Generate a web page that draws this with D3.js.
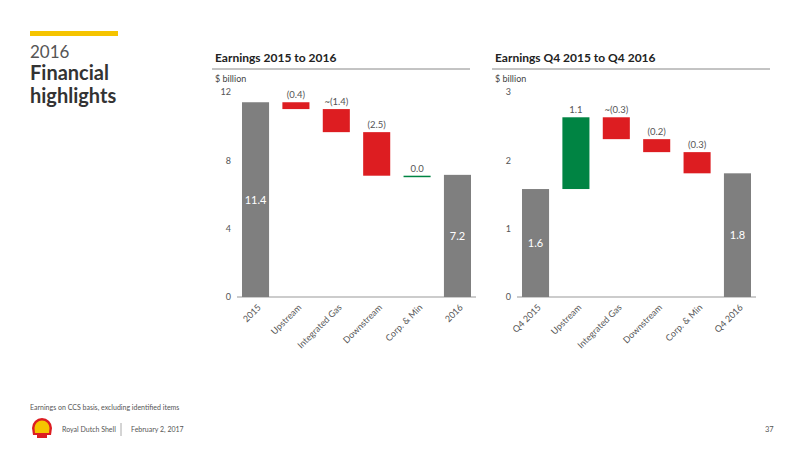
<!DOCTYPE html>
<html><head><meta charset="utf-8">
<script src="https://cdn.jsdelivr.net/npm/d3@7"></script>
<style>body{margin:0;background:#fff;font-family:Lato,"Open Sans",sans-serif}</style>
</head><body><svg id="c" width="800" height="450"></svg>
<script>
const cats1=["2015","Upstream","Integrated Gas","Downstream","Corp. & Min","2016"];
const vals1=[11.4,-0.4,-1.35,-2.55,0.0,7.15];
const labels1=["11.4","(0.4)","~(1.4)","(2.5)","0.0","7.2"];
const ticks1=[0,4,8,12];
const cats2=["Q4 2015","Upstream","Integrated Gas","Downstream","Corp. & Min","Q4 2016"];
const vals2=[1.58,1.05,-0.32,-0.19,-0.31,1.81];
const labels2=["1.6","1.1","~(0.3)","(0.2)","(0.3)","1.8"];
const ticks2=[0,1,2,3];

const svg=d3.select("#c");
svg.append("rect").attr("x",30).attr("y",31).attr("width",88).attr("height",5).attr("fill","#f5c400");
svg.append("text").attr("x",30).attr("y",58).attr("font-size",17).attr("fill","#555").text("2016");
svg.append("text").attr("x",30).attr("y",80).attr("font-size",20).attr("font-weight","bold").attr("fill","#333").text("Financial");
svg.append("text").attr("x",30).attr("y",103).attr("font-size",20).attr("font-weight","bold").attr("fill","#333").text("highlights");
svg.append("text").attr("x",30).attr("y",410).attr("font-size",7).attr("fill","#555").text("Earnings on CCS basis, excluding identified items");
svg.append("text").attr("x",62).attr("y",432).attr("font-size",7).attr("fill","#555").text("Royal Dutch Shell");
svg.append("line").attr("x1",121).attr("x2",121).attr("y1",423).attr("y2",436).attr("stroke","#aaa");
svg.append("text").attr("x",131).attr("y",432).attr("font-size",7).attr("fill","#555").text("February 2, 2017");
svg.append("text").attr("x",765).attr("y",432).attr("font-size",7.5).attr("fill","#555").text("37");
const lg=svg.append("g").attr("transform","translate(42,429)");
lg.append("path").attr("d","M-9,6 L-10,-1 A10,10 0 0 1 10,-1 L9,6 Z").attr("fill","#dd1d21");
lg.append("path").attr("d","M-7,4 L-7.5,-1 A7.5,7.5 0 0 1 7.5,-1 L7,4 Z").attr("fill","#f5c400");
lg.append("rect").attr("x",-5).attr("y",6).attr("width",10).attr("height",3).attr("fill","#dd1d21");

function chart(x0,x1,title,cats,vals,labels,ticks,ymax){
  svg.append("text").attr("x",x0+3).attr("y",62).attr("font-size",12).attr("font-weight","bold").attr("fill","#222").text(title);
  svg.append("line").attr("x1",x0).attr("x2",x1).attr("y1",69).attr("y2",69).attr("stroke","#888");
  svg.append("text").attr("x",x0+3).attr("y",82).attr("font-size",9).attr("fill","#444").text("$ billion");
  const ax=x0+30;
  const x=d3.scaleBand().domain(cats).range([ax,ax+229]).paddingInner(0.33).paddingOuter(0);
  const y=d3.scaleLinear().domain([0,ymax]).range([297,92]);
  const g=svg.append("g");
  g.append("g").attr("transform",`translate(${ax-8},0)`).call(d3.axisLeft(y).tickValues(ticks).tickSize(0).tickFormat(d3.format("d")))
    .call(a=>{a.select(".domain").remove();a.selectAll("text").attr("font-size",9).attr("fill","#555").attr("font-family","Lato");});
  g.append("line").attr("x1",ax-5).attr("x2",ax+234).attr("y1",297).attr("y2",297).attr("stroke","#999");
  let cum=0;
  vals.forEach((v,i)=>{
    let lo,hi,col,last=i===vals.length-1;
    if(i===0||last){lo=0;hi=v;col="#7f7f7f";cum=v;}
    else{lo=Math.min(cum,cum+v);hi=Math.max(cum,cum+v);col=v>=0?"#008443":"#dd1d21";cum+=v;}
    const bx=x(cats[i]),bw=x.bandwidth();
    const h=Math.max(y(lo)-y(hi),1.5);
    g.append("rect").attr("x",bx).attr("y",y(hi)).attr("width",bw).attr("height",h).attr("fill",col);
    if(i===0||last){
      g.append("text").attr("x",bx+bw/2).attr("y",y(hi/2)+4).attr("text-anchor","middle").attr("font-size",11).attr("fill","#fff").text(labels[i]);
    } else {
      g.append("text").attr("x",bx+bw/2).attr("y",y(hi)-4).attr("text-anchor","middle").attr("font-size",9.5).attr("fill","#555").text(labels[i]);
    }
    g.append("text").attr("transform",`translate(${bx+bw/2+6},${308}) rotate(-45)`).attr("text-anchor","end").attr("font-size",9).attr("fill","#555").text(cats[i]);
  });
}
chart(212,470,"Earnings 2015 to 2016",cats1,vals1,labels1,ticks1,12);
chart(492,770,"Earnings Q4 2015 to Q4 2016",cats2,vals2,labels2,ticks2,3);
</script></body></html>
